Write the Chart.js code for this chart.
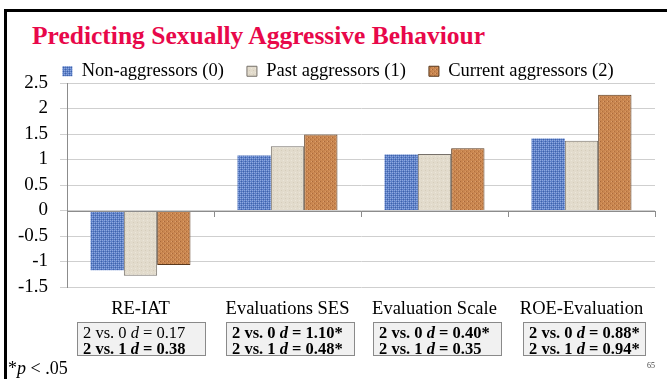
<!DOCTYPE html>
<html>
<head>
<meta charset="utf-8">
<script src="https://cdn.jsdelivr.net/npm/chart.js@4"></script>
<style>
  html, body { margin: 0; padding: 0; background: #fff; }
  #slide { position: relative; width: 667px; height: 379px; overflow: hidden; font-family: "Liberation Serif", "Times New Roman", serif; }
  #frame { position: absolute; left: 4px; top: 9px; right: -10px; bottom: -10px; border-left: 3px solid #000; border-top: 3px solid #000; }
  #title { position: absolute; left: 32px; top: 21px; font-size: 25.5px; font-weight: bold; color: #e8084a; white-space: nowrap; }
  #chart { position: absolute; left: 0; top: 0; }
  .dbox { position: absolute; top: 322px; height: 34px; box-sizing: border-box; border: 1px solid #8a8a8a; background: #f1f1f1; font-size: 16.5px; line-height: 16px; padding: 2px 0 0 5px; white-space: nowrap; color: #000; }
  .dbox .b { font-weight: bold; }
  #note { position: absolute; left: 8px; top: 358px; font-size: 18px; white-space: nowrap; }
  #page { position: absolute; left: 647px; top: 361px; font-size: 8px; color: #444; }
</style>
</head>
<body>
<div id="slide">
  <div id="frame"></div>
  <div id="title">Predicting Sexually Aggressive Behaviour</div>
  <canvas id="chart" width="667" height="379"></canvas>
  <div id="boxes"></div>
  <div id="note">*<i>p</i> &lt; .05</div>
  <div id="page">65</div>
</div>
<script>
// Categories and group means
const categories = ['RE-IAT', 'Evaluations SES', 'Evaluation Scale', 'ROE-Evaluation'];
const seriesNames = ['Non-aggressors (0)', 'Past aggressors (1)', 'Current aggressors (2)'];
const nonAggressors = [-1.17, 1.08, 1.10, 1.41];
const pastAggressors = [-1.28, 1.26, 1.11, 1.37];
const currentAggressors = [-1.07, 1.49, 1.22, 2.27];

// Effect sizes shown under each category
const dVs0 = ['0.17', '1.10*', '0.40*', '0.88*'];
const dVs1 = ['0.38', '0.48*', '0.35', '0.94*'];
const boldVs0 = [false, true, true, true];
const boldVs1 = [true, true, true, true];

// Y axis ticks
const yMin = -1.5;
const yMax = 2.5;
const yStep = 0.5;

// Box placement relative to each category centre: [offset, width]
const boxLayout = [[-64, 129], [-62, 129], [-62, 129], [-59, 123]];

const FONT = '"Liberation Serif", "Times New Roman", serif';

// Small tiled textures for the bar fills
function makePattern(base, dots) {
    const c = document.createElement('canvas');
    c.width = 4; c.height = 4;
    const g = c.getContext('2d');
    g.fillStyle = base;
    g.fillRect(0, 0, 4, 4);
    dots.forEach(d => {
        g.fillStyle = d[2];
        g.fillRect(d[0], d[1], 1, 1);
    });
    return g.createPattern(c, 'repeat');
}

const ctx = document.getElementById('chart').getContext('2d');
const bluePattern = makePattern('#5d80c8', [
    [0, 0, '#8fa9df'], [2, 0, '#8fa9df'], [0, 2, '#8fa9df'], [2, 2, '#8fa9df'],
    [1, 1, '#3f62a8'], [3, 3, '#3f62a8'], [1, 3, '#4a6db4']
]);
const beigePattern = makePattern('#e2dbcc', [[1, 2, '#d5cdbb'], [3, 0, '#ebe6da']]);
const orangePattern = makePattern('#c98650', [
    [0, 1, '#a9683a'], [2, 3, '#b2713f'], [3, 1, '#dca06c'], [1, 3, '#d8985f']
]);

// Zero line with ticks at category boundaries
const zeroTicks = {
    id: 'zeroTicks',
    afterDatasetsDraw(chart) {
        const x = chart.scales.x, y = chart.scales.y;
        const y0 = Math.round(y.getPixelForValue(0));
        const c = chart.ctx;
        c.save();
        c.strokeStyle = '#8c8c8c';
        c.lineWidth = 1;
        c.beginPath();
        c.moveTo(chart.chartArea.left, y0 + 0.5);
        c.lineTo(chart.chartArea.right, y0 + 0.5);
        for (let i = 0; i <= categories.length; i++) {
            const px = Math.round(x.left + (x.right - x.left) * i / categories.length) + 0.5;
            c.moveTo(px, y0);
            c.lineTo(px, y0 + 6);
        }
        c.stroke();
        c.restore();
    }
};

// Fixed legend height so the plot starts right under it, nudged right a little
const legendLayout = {
    id: 'legendLayout',
    beforeInit(chart) {
        const fit = chart.legend.fit;
        chart.legend.fit = function() {
            fit.call(this);
            this.height = 44;
        };
    },
    afterLayout(chart) {
        chart.legend.left += 8;
        chart.legend.right += 8;
    }
};

const chart = new Chart(ctx, {
    type: 'bar',
    data: {
        labels: categories,
        datasets: [
            { label: seriesNames[0], data: nonAggressors, backgroundColor: bluePattern, borderColor: '#5d80c8', borderWidth: 0 },
            { label: seriesNames[1], data: pastAggressors, backgroundColor: beigePattern, borderColor: '#76706a', borderWidth: 1 },
            { label: seriesNames[2], data: currentAggressors, backgroundColor: orangePattern, borderColor: '#5a381c', borderWidth: 1 }
        ]
    },
    options: {
        responsive: false,
        animation: false,
        events: [],
        layout: { padding: { left: 5, right: 12, top: 39, bottom: 60 } },
        datasets: {
            bar: { categoryPercentage: 0.68, barPercentage: 1.0 }
        },
        plugins: {
            legend: {
                position: 'top',
                labels: {
                    font: { family: FONT, size: 18.5 },
                    color: '#000',
                    boxWidth: 10,
                    boxHeight: 10,
                    padding: 23
                }
            },
            tooltip: { enabled: false }
        },
        scales: {
            y: {
                min: yMin,
                max: yMax,
                afterFit(scale) { scale.width = 62; },
                ticks: {
                    stepSize: yStep,
                    autoSkip: false,
                    color: '#000',
                    padding: 12,
                    font: { family: FONT, size: 19 },
                    callback: v => String(v)
                },
                grid: {
                    color: '#cfcfcf',
                    tickLength: 7,
                    drawTicks: true
                },
                border: { display: true, color: '#8c8c8c' }
            },
            x: {
                afterFit(scale) { scale.height = 32; },
                ticks: {
                    color: '#000',
                    padding: 11,
                    font: { family: FONT, size: 18.5 }
                },
                grid: { display: false, drawTicks: false },
                border: { display: false }
            }
        }
    },
    plugins: [zeroTicks, legendLayout]
});

// Effect size boxes under the category labels
function dLine(text, bold) {
    const cls = bold ? ' class="b"' : '';
    return '<div' + cls + '>2 vs. ' + text + '</div>';
}
const boxes = document.getElementById('boxes');
categories.forEach((cat, i) => {
    const cx = chart.scales.x.getPixelForValue(i);
    const box = document.createElement('div');
    box.className = 'dbox';
    box.style.left = Math.round(cx + boxLayout[i][0]) + 'px';
    box.style.width = boxLayout[i][1] + 'px';
    box.innerHTML = dLine('0 <i>d</i> = ' + dVs0[i], boldVs0[i]) + dLine('1 <i>d</i> = ' + dVs1[i], boldVs1[i]);
    boxes.appendChild(box);
});
</script>
</body>
</html>
